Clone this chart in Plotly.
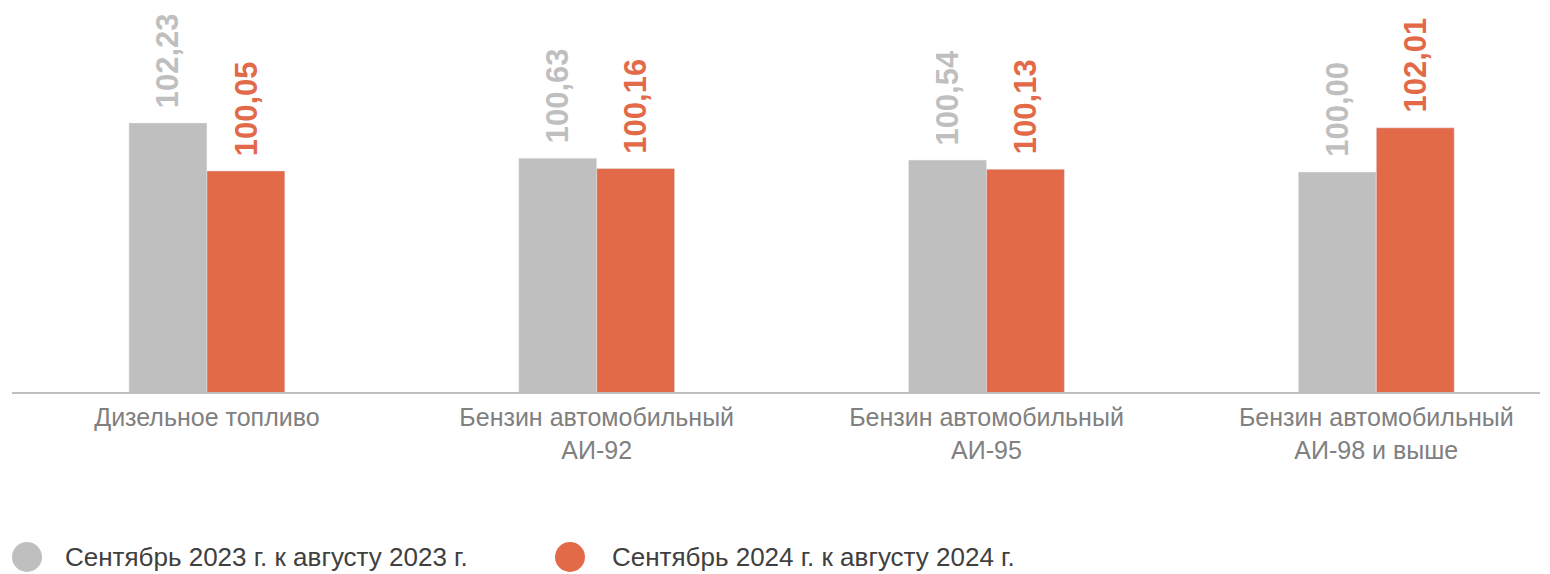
import plotly.graph_objects as go

categories = ["Дизельное топливо", "Бензин автомобильный<br>АИ-92",
              "Бензин автомобильный<br>АИ-95", "Бензин автомобильный<br>АИ-98 и выше"]
series_2023 = [102.23, 100.63, 100.54, 100.00]
series_2024 = [100.05, 100.16, 100.13, 102.01]
name_2023 = "Сентябрь 2023 г. к августу 2023 г."
name_2024 = "Сентябрь 2024 г. к августу 2024 г."

GRAY = "#bfbfbf"
ORANGE = "#e36a48"
FONT = "Liberation Sans, Arial, sans-serif"

# page body has an 8px margin, so the figure is drawn 8px smaller
W, H = 1542, 566
ML, MR, MT, MB = 4, 10, 0, 182
PW = W - ML - MR
PH = H - MT - MB

def fmt(v):
    return f"{v:.2f}".replace(".", ",")

fig = go.Figure()
fig.add_trace(go.Bar(x=categories, y=series_2023, name=name_2023, marker_color=GRAY,
                     showlegend=False, hoverinfo="skip"))
fig.add_trace(go.Bar(x=categories, y=series_2024, name=name_2024, marker_color=ORANGE,
                     showlegend=False, hoverinfo="skip"))

annotations = []
for i, cat in enumerate(categories):
    for vals, col, shift in ((series_2023, GRAY, -39), (series_2024, ORANGE, 39)):
        annotations.append(dict(
            x=cat, y=vals[i], xref="x", yref="y", text=f"<b>{fmt(vals[i])}</b>",
            showarrow=False, textangle=-90, xanchor="center", yanchor="bottom",
            xshift=shift, yshift=13, font=dict(family=FONT, size=31, color=col)))

shapes = []
legend_items = [(name_2023, GRAY, 19, 55), (name_2024, ORANGE, 562, 602)]
ly = (PH - (549 - MT)) / PH
for name, col, cx, tx in legend_items:
    shapes.append(dict(type="circle", xref="paper", yref="paper",
                       xsizemode="pixel", ysizemode="pixel",
                       xanchor=(cx - ML) / PW, yanchor=ly,
                       x0=-15, x1=15, y0=-15, y1=15,
                       fillcolor=col, line=dict(width=0)))
    annotations.append(dict(x=(tx - ML) / PW, y=ly, xref="paper", yref="paper",
                            text=name, showarrow=False, xanchor="left", yanchor="middle",
                            font=dict(family=FONT, size=26, color="#404040")))

fig.update_layout(
    width=W, height=H,
    margin=dict(l=ML, r=MR, t=MT, b=MB),
    paper_bgcolor="white", plot_bgcolor="white",
    barmode="group", bargap=0.6, bargroupgap=0,
    showlegend=False,
    font=dict(family=FONT),
    xaxis=dict(range=[-0.5, 3.42], showline=True, linecolor=GRAY, linewidth=2,
               ticks="", showgrid=False, zeroline=False, ticklabelstandoff=2,
               tickfont=dict(family=FONT, size=25, color="#808080")),
    yaxis=dict(range=[90, 90 + PH / 22.0], visible=False, showgrid=False, zeroline=False),
    annotations=annotations, shapes=shapes,
)

fig.write_html("out.html")
